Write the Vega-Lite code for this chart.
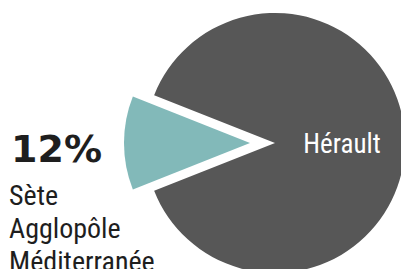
{
  "$schema": "https://vega.github.io/schema/vega-lite/v6.json",
  "autosize": {"type": "none"},
  "width": 252,
  "height": 252,
  "padding": {"left": 149, "top": 17, "right": 0, "bottom": 0},
  "background": "white",
  "config": {"view": {"stroke": null}},
  "data": {"values": [
    {"name": "Sète Agglopôle Méditerranée", "value": 0.12},
    {"name": "Hérault", "value": 0.88}
  ]},
  "encoding": {
    "theta": {"field": "value", "type": "quantitative", "stack": true, "scale": {"domain": [0, 1], "range": [4.3354, 10.6186]}},
    "order": {"field": "value", "type": "quantitative"},
    "detail": {"field": "name"}
  },
  "layer": [
    {
      "mark": {"type": "arc", "outerRadius": 130, "color": "#575757"},
      "encoding": {"opacity": {"condition": {"test": "datum.name === 'Hérault'", "value": 1}, "value": 0}}
    },
    {
      "mark": {"type": "arc", "outerRadius": 126, "xOffset": -25, "color": "#82b9b9"},
      "encoding": {"opacity": {"condition": {"test": "datum.name !== 'Hérault'", "value": 1}, "value": 0}}
    },
    {
      "mark": {"type": "text", "radius": 67, "font": "Roboto Condensed, Roboto", "fontSize": 27, "color": "white", "dy": 2},
      "encoding": {"text": {"condition": {"test": "datum.name === 'Hérault'", "field": "name"}, "value": ""}}
    },
    {
      "mark": {"type": "text", "radius": 264, "align": "left", "baseline": "alphabetic", "font": "DejaVu Sans", "fontWeight": "bold", "fontSize": 38, "color": "#1e1e1e", "dy": 19},
      "encoding": {"text": {"condition": {"test": "datum.name !== 'Hérault'", "field": "value", "type": "quantitative", "format": ".0%"}, "value": ""}}
    },
    {
      "mark": {"type": "text", "radius": 266, "align": "left", "baseline": "alphabetic", "lineBreak": " ", "lineHeight": 33, "font": "Roboto Condensed, Roboto", "fontSize": 28, "color": "#1e1e1e", "dy": 62},
      "encoding": {"text": {"condition": {"test": "datum.name !== 'Hérault'", "field": "name"}, "value": ""}}
    }
  ]
}
